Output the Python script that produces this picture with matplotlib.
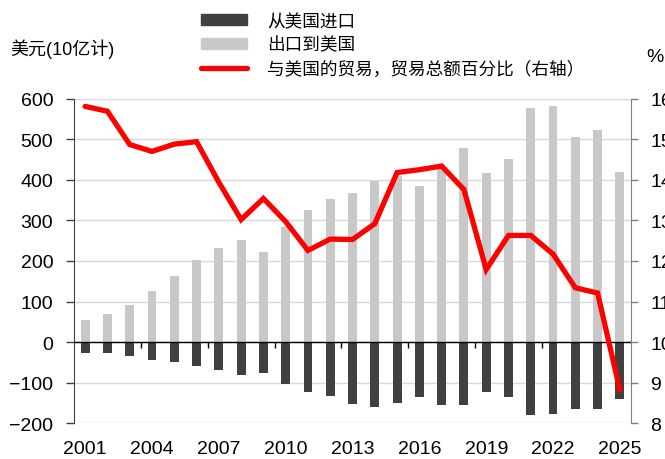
import matplotlib
matplotlib.use('Agg')
import matplotlib.pyplot as plt
from matplotlib.patches import Patch
from matplotlib.lines import Line2D
import numpy as np

## --- data (USD bn, share in %)
years = list(range(2001, 2026))
exports_to_us = [54, 70, 92, 125, 163, 203, 233, 252, 221, 283, 325, 352, 368,
                 396, 410, 385, 430, 478, 418, 452, 577, 582, 505, 524, 420]
imports_from_us = [-26, -27, -34, -45, -49, -59, -69, -81, -77, -102, -122, -133,
                   -153, -159, -149, -134, -154, -155, -123, -136, -180, -178,
                   -165, -164, -140]
us_share = [15.81, 15.69, 14.87, 14.70, 14.88, 14.94, 13.94, 13.02, 13.54,
            12.97, 12.26, 12.54, 12.53, 12.92, 14.18, 14.25, 14.34, 13.76,
            11.79, 12.63, 12.63, 12.17, 11.34, 11.21, 8.82]
label_years = years[::3]
legend_labels = ['从美国进口', '出口到美国', '与美国的贸易，贸易总额百分比（右轴）']

plt.rcParams['font.family'] = ['Liberation Sans Narrow', 'Liberation Sans',
                               'Noto Sans CJK SC', 'DejaVu Sans']
dark = '#404040'
light = '#c8c8c8'
red = '#ff0000'

fig = plt.figure(figsize=(6.65, 4.6), dpi=100)
ax = fig.add_axes([0.1113, 0.0776, 0.8376, 0.7057])
x = np.arange(len(years))

ax.bar(x, exports_to_us, width=0.4, color=light, zorder=2)
ax.bar(x, imports_from_us, width=0.4, color=dark, zorder=2)
ax.axhline(0, color='black', lw=1, zorder=3)
# small tick marks hanging from the zero line
tick_pos = [i + 0.5 for i in range(2, len(years) - 1, 3)]
ax.plot(tick_pos, [0] * len(tick_pos), ls='none', marker=3, ms=4, mew=1,
        color='black', zorder=3)

ax.set_xlim(-0.5, len(years) - 0.5)
ax.set_ylim(-200, 600)
ax.set_yticks(range(-200, 601, 100))
ax.yaxis.grid(True, color='#d9d9d9', lw=1)
ax.set_axisbelow(True)
ax.set_xticks(x[::3])
ax.set_xticklabels([str(y) for y in label_years])
ax.tick_params(axis='x', length=0, pad=12, labelsize=14)
ax.tick_params(axis='y', direction='out', length=6, width=1, color=dark,
               pad=9, labelsize=14)
for s in ['top', 'right', 'bottom']:
    ax.spines[s].set_visible(False)
ax.spines['left'].set_color(dark)

ax2 = ax.twinx()
ax2.plot(x, us_share, color=red, lw=3.8, solid_capstyle='round',
         solid_joinstyle='miter', zorder=4)
ax2.set_ylim(8, 16)
ax2.set_yticks(range(8, 17))
ax2.tick_params(axis='y', direction='out', length=5, width=1, color='#808080',
                pad=9, labelsize=14)
for s in ['top', 'left', 'bottom']:
    ax2.spines[s].set_visible(False)
ax2.spines['right'].set_color('#808080')

## --- legend and axis titles
handles = [Patch(color=dark), Patch(color=light),
           Line2D([0], [0], color=red, lw=3.8, solid_capstyle='round')]
fig.legend(handles, legend_labels, loc='upper left',
           bbox_to_anchor=(0.292, 0.985), frameon=False, fontsize=12.7,
           handlelength=2.6, handleheight=0.57, handletextpad=1.15,
           labelspacing=0.38, borderaxespad=0)
fig.text(0.016, 0.892, '美元(10亿计)', fontsize=13, va='center')
fig.text(0.972, 0.874, '%', fontsize=14, va='center')

fig.savefig('out.png', dpi=100)
